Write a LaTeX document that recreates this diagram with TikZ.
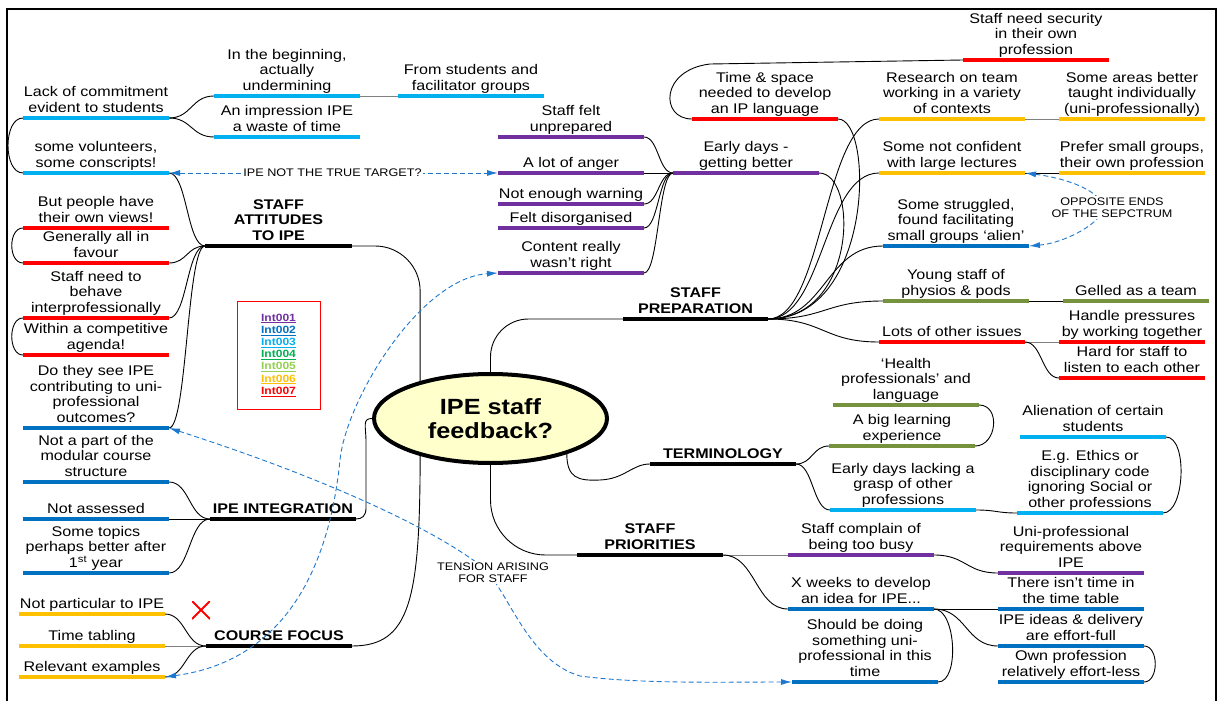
\documentclass[tikz,border=0pt]{standalone}
\usepackage{fontspec}
\setmainfont{Liberation Sans}[FakeStretch=1.15]
\usetikzlibrary{shapes.geometric,arrows.meta,calc}

\definecolor{cCyan}{RGB}{0,176,240}
\definecolor{cBlue}{RGB}{0,112,192}
\definecolor{cPurple}{RGB}{112,48,160}
\definecolor{cRed}{RGB}{255,0,0}
\definecolor{cOrange}{RGB}{255,192,0}
\definecolor{cOlive}{RGB}{118,146,60}
\definecolor{cGreen}{RGB}{0,176,80}
\definecolor{cLime}{RGB}{146,208,80}
\definecolor{cGray}{RGB}{128,128,128}
\definecolor{cDash}{RGB}{30,120,205}
\definecolor{cCore}{RGB}{255,255,204}

\tikzset{
  conn/.style={line width=0.9pt, draw=black},
  uline/.style={line width=3.6pt},
  hline/.style={line width=4.2pt, draw=black},
  topictext/.style={anchor=south, yshift=1pt, inner sep=0pt, outer sep=0pt,
    align=center, font=\fontsize{14}{15.5}\selectfont},
  headtext/.style={topictext, font=\bfseries\fontsize{14}{15.5}\selectfont},
  core/.style={ellipse, draw=black, line width=4pt, fill=cCore,
    minimum width=233pt, minimum height=89pt, inner sep=0pt, align=center,
    font=\bfseries\fontsize{22}{23.5}\selectfont},
  dasharrow/.style={draw=cDash, line width=0.9pt, dash pattern=on 5pt off 3pt,
    >={Latex[length=11pt,width=6pt]}, <->},
  notelabel/.style={fill=white, inner sep=1.5pt, align=center,
    font=\fontsize{11}{11.5}\selectfont},
  legend/.style={draw=cRed, line width=0.8pt, minimum width=83pt,
    minimum height=108pt, inner sep=0pt, align=center,
    font=\bfseries\fontsize{10.5}{12.2}\selectfont}
}

% a topic: underline from x1 to x2 at height y, text centred above it
\newcommand\topic[6]{%
  \coordinate (#1-l) at (#2,#4);
  \coordinate (#1-r) at (#3,#4);
  \draw[uline,draw=#5] (#1-l) -- (#1-r);
  \node[topictext] (#1) at ($(#1-l)!0.5!(#1-r)$) {#6\strut};
}
% a main branch: bold caption on a black bar
\newcommand\heading[5]{%
  \coordinate (#1-l) at (#2,#4);
  \coordinate (#1-r) at (#3,#4);
  \draw[hline] (#1-l) -- (#1-r);
  \node[headtext] (#1) at ($(#1-l)!0.5!(#1-r)$) {#5\strut};
}
% S-shaped link with horizontal tangents at both ends
\newcommand\link[3][]{%
  \path ($(#2)!0.5!(#3)$) coordinate (lkm);
  \draw[conn,#1] (#2) .. controls (lkm |- #2) and (lkm |- #3) .. (#3);
}
% loop joining two underline ends on the same side
\newcommand\loopside[3]{%
  \draw[conn] (#1) .. controls +(#3,0) and +(#3,0) .. (#2);
}

\begin{document}
\begin{tikzpicture}[x=1pt,y=-1pt]
\useasboundingbox (0,0) rectangle (1219,701);

% frame
\draw[line width=2.5pt] (7,701) -- (7,9) -- (1216,9) -- (1216,701);

% ---------- left column ----------
\topic{lack}{23}{169}{118}{cCyan}{Lack of commitment\\evident to students}
\topic{volun}{23}{169}{173}{cCyan}{some volunteers,\\some conscripts!}
\topic{people}{23}{169}{228}{cRed}{But people have\\their own views!}
\topic{favour}{23}{169}{263}{cRed}{Generally all in\\favour}
\topic{behave}{23}{169}{318}{cRed}{Staff need to\\behave\\interprofessionally}
\topic{agenda}{23}{169}{355}{cRed}{Within a competitive\\agenda!}
\topic{dothey}{23}{169}{428}{cBlue}{Do they see IPE\\contributing to uni-\\professional\\outcomes?}
\topic{modular}{23}{169}{482}{cBlue}{Not a part of the\\modular course\\structure}
\topic{assessed}{23}{169}{519}{cBlue}{Not assessed}
\topic{topics}{23}{169}{573}{cBlue}{Some topics\\perhaps better after\\1\textsuperscript{st} year}
\topic{notpart}{19}{165}{614}{cOrange}{Not particular to IPE}
\topic{timetab}{19}{165}{646}{cOrange}{Time tabling}
\topic{relevant}{19}{165}{677}{cOrange}{Relevant examples}

% ---------- upper middle ----------
\topic{begin}{214}{360}{96}{cCyan}{In the beginning,\\actually\\undermining}
\topic{impression}{214}{360}{137}{cCyan}{An impression IPE\\a waste of time}
\topic{fromstud}{398}{544}{96}{cCyan}{From students and\\facilitator groups}
\topic{unprepared}{498}{644}{137}{cPurple}{Staff felt\\unprepared}
\topic{anger}{498}{644}{173}{cPurple}{A lot of anger}
\topic{warning}{498}{644}{204}{cPurple}{Not enough warning}
\topic{disorg}{498}{644}{228}{cPurple}{Felt disorganised}
\topic{content}{498}{644}{273}{cPurple}{Content really\\wasn’t right}
\topic{early}{673}{819}{173}{cPurple}{Early days -\\getting better}
\topic{timespace}{692}{838}{119}{cRed}{Time \& space\\needed to develop\\an IP language}
\topic{security}{963}{1109}{60}{cRed}{Staff need security\\in their own\\profession}

% ---------- right side ----------
\topic{research}{879}{1025}{119}{cOrange}{Research on team\\working in a variety\\of contexts}
\topic{areas}{1059}{1205}{119}{cOrange}{Some areas better\\taught individually\\(uni-professionally)}
\topic{notconf}{879}{1025}{173}{cOrange}{Some not confident\\with large lectures}
\topic{prefer}{1059}{1205}{173}{cOrange}{Prefer small groups,\\their own profession}
\topic{struggled}{883}{1029}{246}{cBlue}{Some struggled,\\found facilitating\\small groups ‘alien’}
\topic{young}{883}{1029}{301}{cOlive}{Young staff of\\physios \& pods}
\topic{gelled}{1063}{1209}{301}{cOlive}{Gelled as a team}
\topic{lots}{879}{1025}{342}{cRed}{Lots of other issues}
\topic{handle}{1059}{1205}{342}{cRed}{Handle pressures\\by working together}
\topic{hard}{1059}{1205}{378}{cRed}{Hard for staff to\\listen to each other}
\topic{health}{833}{979}{405}{cOlive}{‘Health\\professionals’ and\\language}
\topic{biglearn}{829}{975}{446}{cOlive}{A big learning\\experience}
\topic{lacking}{830}{976}{510}{cCyan}{Early days lacking a\\grasp of other\\professions}
\topic{alien}{1020}{1166}{437}{cCyan}{Alienation of certain\\students}
\topic{ethics}{1017}{1163}{513}{cCyan}{E.g. Ethics or\\disciplinary code\\ignoring Social or\\other professions}
\topic{complain}{788}{934}{555}{cPurple}{Staff complain of\\being too busy}
\topic{uniprof}{998}{1144}{573}{cPurple}{Uni-professional\\requirements above\\IPE}
\topic{xweeks}{788}{934}{609}{cBlue}{X weeks to develop\\an idea for IPE...}
\topic{notime}{998}{1144}{609}{cBlue}{There isn’t time in\\the time table}
\topic{full}{998}{1144}{646}{cBlue}{IPE ideas \& delivery\\are effort-full}
\topic{less}{998}{1144}{682}{cBlue}{Own profession\\relatively effort-less}
\topic{should}{792}{938}{682}{cBlue}{Should be doing\\something uni-\\professional in this\\time}

% ---------- main branches ----------
\heading{attitudes}{205}{352}{246}{STAFF\\ATTITUDES\\TO IPE}
\heading{integration}{210}{356}{519}{IPE INTEGRATION}
\heading{course}{206}{352}{646}{COURSE FOCUS}
\heading{prep}{623}{768}{319}{STAFF\\PREPARATION}
\heading{term}{650}{796}{464}{TERMINOLOGY}
\heading{prio}{577}{723}{555}{STAFF\\PRIORITIES}

% central topic
\node[core] (core) at (490.5,418.5) {IPE staff\\feedback?};

% legend of interview codes
\node[legend] (codes) at (278.5,355) {%
  \textcolor{cPurple}{\underline{Int001}}\\
  \textcolor{cBlue}{\underline{Int002}}\\
  \textcolor{cCyan}{\underline{Int003}}\\
  \textcolor{cGreen}{\underline{Int004}}\\
  \textcolor{cLime}{\underline{Int005}}\\
  \textcolor{cOrange}{\underline{Int006}}\\
  \textcolor{cRed}{\underline{Int007}}};

% red cross beside the course focus items
\node[minimum size=18pt, inner sep=0pt,
  path picture={\draw[cRed,line width=2pt]
    (path picture bounding box.north west) -- (path picture bounding box.south east)
    (path picture bounding box.south west) -- (path picture bounding box.north east);}]
  (cross) at (201,610) {};

% ---------- branches from the central topic ----------
\draw[conn, rounded corners=45pt] (core.152) |- (attitudes-r);
\draw[conn] (core.208) .. controls (420,600) and (410,646) .. (course-r);
\draw[conn] (core.west) .. controls (362,418.5) and (366,426) .. (366,442)
  -- (366,508) .. controls (366,516) and (362,519) .. (integration-r);
\draw[conn, rounded corners=38pt] (core.north) |- (prep-l);
\draw[conn, rounded corners=55pt] (core.south) |- (prio-l);
\draw[conn] (core.335) .. controls (567,478) and (578,481) .. (600,480)
  .. controls (625,479) and (632,464) .. (term-l);

% ---------- staff attitudes ----------
\link{lack-r}{begin-l}
\link{lack-r}{impression-l}
\draw[conn,draw=cGray] (begin-r) -- (fromstud-l);
\loopside{lack-l}{volun-l}{-20}
\link{volun-r}{attitudes-l}
\loopside{people-l}{favour-l}{-15}
\link{favour-r}{attitudes-l}
\loopside{behave-l}{agenda-l}{-15}
\link{behave-r}{attitudes-l}
\link{dothey-r}{attitudes-l}

% ---------- IPE integration ----------
\link{integration-l}{modular-r}
\draw[conn] (integration-l) -- (assessed-r);
\link{integration-l}{topics-r}

% ---------- course focus ----------
\link{course-l}{notpart-r}
\draw[conn,draw=cGray] (course-l) -- (timetab-r);
\link{course-l}{relevant-r}

% ---------- staff preparation ----------
\link{unprepared-r}{early-l}
\draw[conn] (anger-r) -- (early-l);
\link{warning-r}{early-l}
\link{disorg-r}{early-l}
\link{content-r}{early-l}
\draw[conn] (prep-r) .. controls +(90,0) and +(39,0) .. (early-r);
\draw[conn] (prep-r) .. controls +(106,0) and +(36,0) .. (timespace-r);
\draw[conn] (timespace-l) .. controls (660,119) and (660,70) .. (710,64) -- (security-l);
\link{prep-r}{research-l}
\link{prep-r}{notconf-l}
\link{prep-r}{struggled-l}
\link{prep-r}{young-l}
\link{prep-r}{lots-l}
\draw[conn,draw=cGray] (research-r) -- (areas-l);
\draw[conn] (notconf-r) -- (prefer-l);
\draw[conn] (young-r) -- (gelled-l);
\draw[conn,draw=cGray] (lots-r) -- (handle-l);
\link{lots-r}{hard-l}

% ---------- terminology ----------
\link{term-r}{biglearn-l}
\link{term-r}{lacking-l}
\loopside{health-r}{biglearn-r}{22}
\link{lacking-r}{ethics-l}
\loopside{alien-r}{ethics-r}{22}

% ---------- staff priorities ----------
\draw[conn,draw=cGray] (prio-r) -- (complain-l);
\link{prio-r}{xweeks-l}
\link{complain-r}{uniprof-l}
\draw[conn] (xweeks-r) -- (notime-l);
\link{xweeks-r}{full-l}
\loopside{xweeks-r}{should-r}{22}
\loopside{full-r}{less-r}{15}

% ---------- dashed relationships ----------
\draw[dasharrow] (volun-r) -- (anger-l);
\node[notelabel] (target) at (332.5,173) {IPE NOT THE TRUE TARGET?};

\draw[dasharrow] (relevant-r) .. controls (290,660) and (330,560) .. (340,460)
  .. controls (346,400) and (420,278) .. (content-l);

\draw[dasharrow] (dothey-r) .. controls (300,470) and (420,520) .. (480,565)
  .. controls (507,585) and (525,660) .. (580,676)
  .. controls (640,684) and (720,682) .. (should-l);
\node[notelabel] (tension) at (493,572.5) {TENSION ARISING\\FOR STAFF};

\draw[dasharrow] (notconf-r) .. controls (1065,178) and (1100,190) .. (1103,207)
  .. controls (1104,222) and (1065,243) .. (struggled-r);
\node[notelabel] (opposite) at (1112,207.5) {OPPOSITE ENDS\\OF THE SEPCTRUM};

\end{tikzpicture}
\end{document}
